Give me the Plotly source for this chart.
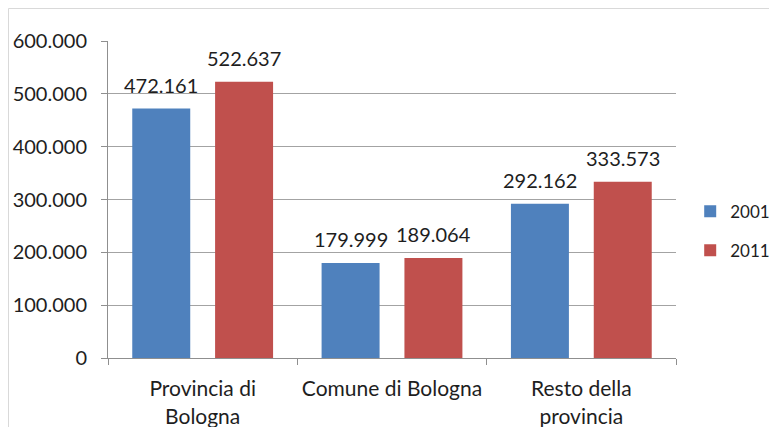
import plotly.graph_objects as go

categories = ["Provincia di<br>Bologna", "Comune di Bologna", "Resto della<br>provincia"]
series_names = ["2001", "2011"]
values_2001 = [472161, 179999, 292162]
values_2011 = [522637, 189064, 333573]
y_ticks = [0, 100000, 200000, 300000, 400000, 500000, 600000]

colors = ["#4F81BD", "#C0504D"]
FONT = "Lato, 'Open Sans', sans-serif"
TXT = "#1e1e1e"

W, H = 769, 419
L, R, T, B = 100, 101, 33, 69
pw, ph = W - L - R, H - T - B

BARGAP, GROUPGAP = 0.125, 0.30
cat_w = pw / len(categories)
slot = cat_w * (1 - BARGAP) / 2

fig = go.Figure()
for name, vals, col in zip(series_names, [values_2001, values_2011], colors):
    fig.add_trace(go.Bar(
        x=categories, y=vals, name=name, marker_color=col,
        marker_line_width=0, legendgroup=name,
    ))

annotations = []
for i, vals in enumerate([values_2001, values_2011]):
    shift = (i - 0.5) * slot
    for c, v in zip(categories, vals):
        annotations.append(dict(
            x=c, y=v, xref="x", yref="y", text=f"{v:,}".replace(",", "."),
            showarrow=False, xanchor="center", yanchor="bottom",
            xshift=shift, yshift=10,
            font=dict(size=20, color=TXT, family=FONT),
        ))

fig.update_layout(
    width=W, height=H,
    margin=dict(l=L, r=R, t=T, b=B, autoexpand=False),
    paper_bgcolor="white", plot_bgcolor="white",
    separators=",.",
    barmode="group", bargap=BARGAP, bargroupgap=GROUPGAP,
    font=dict(family=FONT, size=18, color=TXT),
    showlegend=True,
    legend=dict(x=1.025, y=0.40, xanchor="left", yanchor="middle",
                font=dict(size=17, color=TXT), tracegroupgap=14,
                itemwidth=30, bgcolor="rgba(0,0,0,0)"),
    xaxis=dict(showgrid=False, showline=True, linecolor="#8f8f8f", linewidth=1,
               ticks="outside", tickson="boundaries", ticklen=6, tickcolor="#8f8f8f",
               tickfont=dict(size=21, color=TXT), ticklabelstandoff=12,
               automargin=False, fixedrange=True),
    yaxis=dict(range=[0, 600000], tickvals=y_ticks, tickformat=",d",
               showgrid=True, gridcolor="#a3a3a3", gridwidth=1.3,
               showline=True, linecolor="#8f8f8f", linewidth=1,
               ticks="outside", ticklen=6, tickcolor="#8f8f8f",
               tickfont=dict(size=20, color=TXT), ticklabelstandoff=10,
               automargin=False, zeroline=False, fixedrange=True),
    annotations=annotations,
    shapes=[dict(type="rect", xref="paper", yref="paper",
                 x0=(0.5 - L) / pw, x1=3,
                 y0=-3, y1=1 + (T - 0.5) / ph,
                 line=dict(color="#d9d9d9", width=1), layer="below")],
)

fig.write_html("out.html")
